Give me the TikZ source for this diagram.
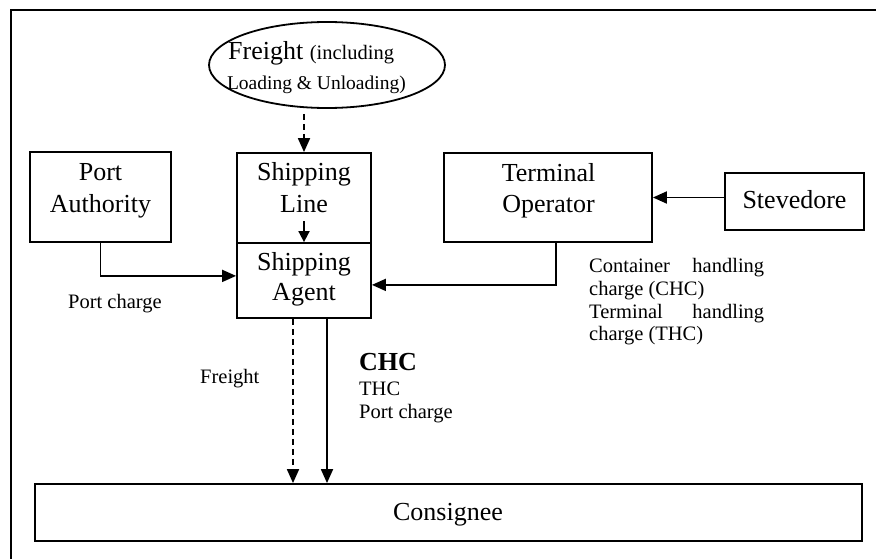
\documentclass[tikz,border=0pt]{standalone}
\usepackage{fontspec}
\setmainfont{Liberation Serif}
\usetikzlibrary{arrows.meta,shapes.geometric}
\tikzset{
  boxnode/.style={draw, line width=1.8pt, inner sep=0pt},
  bigtxt/.style={anchor=base, inner sep=0pt, font=\fontsize{26}{30}\selectfont},
  smalltxt/.style={anchor=base west, inner sep=0pt, font=\fontsize{20.5}{23}\selectfont},
  arr/.style={line width=1.8pt, -{Triangle[length=14pt,width=12pt]}},
  smallarr/.style={line width=1.8pt, -{Triangle[length=11pt,width=11pt]}},
  dsh/.style={dash pattern=on 6pt off 4pt}
}
\begin{document}
\begin{tikzpicture}[x=1pt,y=-1pt]
\useasboundingbox (0,0) rectangle (876,559);
\clip (0,0) rectangle (876,559);
% outer frame
\draw[line width=1.8pt] (11,10) rectangle (890,575);
% ellipse
\node[ellipse, draw, line width=1.8pt, minimum width=236pt, minimum height=86pt, inner sep=0pt] (ell) at (327,65) {};
\node[anchor=base west, inner sep=0pt] (ellt1) at (228,60) {\fontsize{26}{30}\selectfont Freight \fontsize{20.5}{23}\selectfont(including};
\node[anchor=base east, inner sep=0pt, font=\fontsize{19.5}{23}\selectfont] (ellt2) at (406,90) {Loading \& Unloading)};
% boxes
\node[boxnode, minimum width=141pt, minimum height=90pt] (PA) at (100.5,197) {};
\node[boxnode, minimum width=134pt, minimum height=90pt] (SL) at (304,198) {};
\node[boxnode, minimum width=134pt, minimum height=75pt] (SA) at (304,280.5) {};
\node[boxnode, minimum width=208pt, minimum height=89pt] (TO) at (548,197.5) {};
\node[boxnode, minimum width=139pt, minimum height=57pt] (ST) at (794.5,201.5) {};
\node[boxnode, minimum width=827pt, minimum height=57pt] (CO) at (448.5,512.5) {};
% box texts
\node[bigtxt] (pat1) at (100.5,181) {Port};
\node[bigtxt] (pat2) at (100.5,212) {Authority};
\node[bigtxt] (slt1) at (304,181) {Shipping};
\node[bigtxt] (slt2) at (304,212) {Line};
\node[bigtxt] (sat1) at (304,270) {Shipping};
\node[bigtxt] (sat2) at (304,300) {Agent};
\node[bigtxt] (tot1) at (548.5,182) {Terminal};
\node[bigtxt] (tot2) at (548.5,212) {Operator};
\node[bigtxt] (stt) at (794.5,208) {Stevedore};
\node[bigtxt] (cot) at (448,520) {Consignee};
% connectors
\path (SL.north |- ell.south) ++(0,5) coordinate (e1);
\draw[arr, dsh] (e1) -- (SL.north);
\path (SL.north) ++(0,69) coordinate (sl1);
\draw[smallarr] (sl1) -- (SA.north);
\path (PA.south) ++(0,33) coordinate (pa1);
\draw[arr] (PA.south) -- (pa1) -- (SA.west |- pa1);
\path (TO.south) ++(8,0) coordinate (to1);
\path (to1) ++(0,42) coordinate (to2);
\draw[arr] (to1) -- (to2) -- (SA.east |- to2);
\draw[arr] (ST.west |- TO.east) -- (TO.east);
\path (SA.south) ++(-11,0) coordinate (sa1);
\path (SA.south) ++(23,0) coordinate (sa2);
\draw[arr, dsh] (sa1) -- (sa1 |- CO.north);
\draw[arr] (sa2) -- (sa2 |- CO.north);
% labels
\node[smalltxt] (lpc) at (68,308) {Port charge};
\node[smalltxt] (lfr) at (200,383) {Freight};
\node[anchor=base west, inner sep=0pt, font=\fontsize{26}{30}\selectfont\bfseries] (lchc) at (359,370) {CHC};
\node[smalltxt] (lthc) at (359,395) {THC};
\node[smalltxt] (lpc2) at (359,418) {Port charge};
\node[anchor=north west, inner sep=0pt, font=\fontsize{20.5}{22.8}\selectfont, align=left] (lcont) at (589,258)
  {\hbox to 175pt{Container\hfill handling}\\charge (CHC)\\\hbox to 175pt{Terminal\hfill handling}\\charge (THC)};
\end{tikzpicture}
\end{document}
